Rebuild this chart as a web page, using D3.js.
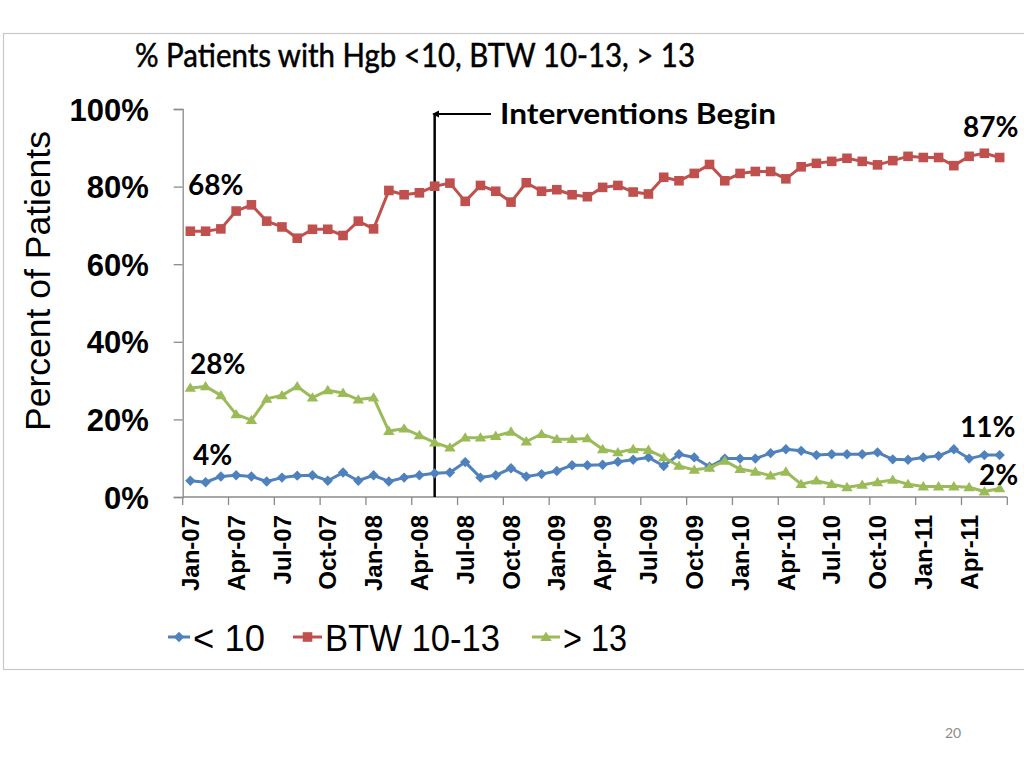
<!DOCTYPE html>
<html>
<head>
<meta charset="utf-8">
<script src="https://cdn.jsdelivr.net/npm/d3@7"></script>
<style>
  html, body { margin: 0; padding: 0; background: #ffffff; }
  svg { display: block; }
</style>
</head>
<body>
<svg id="chart" width="1024" height="768"></svg>
<script>
// ---------------- DATA ----------------
const months = [
  "Jan-07","Feb-07","Mar-07","Apr-07","May-07","Jun-07","Jul-07","Aug-07","Sep-07","Oct-07","Nov-07","Dec-07",
  "Jan-08","Feb-08","Mar-08","Apr-08","May-08","Jun-08","Jul-08","Aug-08","Sep-08","Oct-08","Nov-08","Dec-08",
  "Jan-09","Feb-09","Mar-09","Apr-09","May-09","Jun-09","Jul-09","Aug-09","Sep-09","Oct-09","Nov-09","Dec-09",
  "Jan-10","Feb-10","Mar-10","Apr-10","May-10","Jun-10","Jul-10","Aug-10","Sep-10","Oct-10","Nov-10","Dec-10",
  "Jan-11","Feb-11","Mar-11","Apr-11","May-11","Jun-11"
];
const tickLabels = ["Jan-07","Apr-07","Jul-07","Oct-07","Jan-08","Apr-08","Jul-08","Oct-08","Jan-09","Apr-09",
  "Jul-09","Oct-09","Jan-10","Apr-10","Jul-10","Oct-10","Jan-11","Apr-11"];
const yTicks = [0, 20, 40, 60, 80, 100];

const seriesNames = ["< 10", "BTW 10-13", "> 13"];
const lt10 = [4.2,3.8,5.3,5.6,5.3,4.0,5.0,5.5,5.6,4.2,6.3,4.2,5.6,4.0,5.0,5.6,6.1,6.3,
  9.0,5.0,5.6,7.4,5.3,5.9,6.7,8.2,8.2,8.3,9.1,9.6,10.2,8.0,11.0,10.2,7.8,
  9.9,9.9,9.9,11.3,12.3,11.9,10.8,11.0,11.0,11.0,11.5,9.7,9.6,10.2,10.6,12.3,9.9,10.8,10.8];
const btw = [68.5,68.5,69.1,73.7,75.3,71.1,69.6,66.7,69.0,69.0,67.4,71.1,69.1,79.0,77.9,78.4,80.1,80.9,
  76.2,80.3,78.8,76.0,81.0,78.8,79.2,77.9,77.4,79.8,80.3,78.6,78.1,82.4,81.5,83.4,85.7,
  81.5,83.4,83.9,83.9,82.0,85.1,86.0,86.5,87.3,86.5,85.6,86.7,87.8,87.5,87.5,85.4,87.8,88.6,87.5];
const gt13 = [28.1,28.5,26.2,21.3,19.8,25.3,26.2,28.5,25.6,27.5,26.8,25.1,25.6,17.0,17.6,15.9,14.0,12.7,
  15.3,15.3,15.7,16.8,14.3,16.2,14.9,14.9,15.1,12.3,11.5,12.3,12.1,10.2,8.0,7.0,7.5,
  9.3,7.2,6.5,5.5,6.5,3.3,4.2,3.3,2.5,3.1,3.8,4.4,3.3,2.7,2.7,2.7,2.5,1.4,2.2];

const interventionMonth = "May-08";
const interventionText = "Interventions Begin";
const titleText = "% Patients with Hgb <10, BTW 10-13, > 13";
const yTitle = "Percent of Patients";
const startLabels = ["4%", "68%", "28%"];
const endLabels = ["11%", "87%", "2%"];

// ---------------- STYLE ----------------
const colors = ["#4F81BD", "#C0504D", "#9BBB59"];
const shapes = ["diamond", "square", "triangle"];

const svg = d3.select("#chart");

// slide frame
svg.append("rect").attr("x", 3.5).attr("y", 33.5).attr("width", 1030).attr("height", 636)
  .attr("fill", "none").attr("stroke", "#c8c8c8").attr("stroke-width", 1.2);

const x = d3.scaleBand().domain(months).range([182.7, 1007.3]).padding(0);
const y = d3.scaleLinear().domain([0, 100]).range([497, 109]);
const cx = m => x(m) + x.bandwidth() / 2;

// title
svg.append("text").attr("x", 135).attr("y", 67)
  .attr("font-family", "Lato, 'Open Sans', sans-serif").attr("font-size", 32)
  .attr("stroke", "#000").attr("stroke-width", 0.5)
  .attr("textLength", 560).attr("lengthAdjust", "spacingAndGlyphs")
  .attr("fill", "#000").text(titleText);

// y axis
const yAxis = svg.append("g").attr("transform", `translate(${x.range()[0]},0)`)
  .call(d3.axisLeft(y).tickValues(yTicks).tickSize(9).tickFormat(d => d + "%"));
yAxis.select(".domain").attr("stroke", "#8a8a8a").attr("stroke-width", 1.3);
yAxis.selectAll(".tick line").attr("stroke", "#8a8a8a").attr("stroke-width", 1.3);
yAxis.selectAll(".tick text")
  .attr("x", -34).attr("dy", "0.36em")
  .attr("font-family", "'Liberation Sans', Arial, sans-serif").attr("font-weight", "bold")
  .attr("font-size", 31).attr("fill", "#000");

// y title
svg.append("text").attr("transform", "translate(50,281) rotate(-90)")
  .attr("text-anchor", "middle")
  .attr("font-family", "'Liberation Sans', Arial, sans-serif").attr("font-size", 35.5)
  .attr("fill", "#000").text(yTitle);

// x axis
const xg = svg.append("g");
xg.append("line").attr("x1", x.range()[0]).attr("x2", x.range()[1])
  .attr("y1", y(0)).attr("y2", y(0)).attr("stroke", "#8a8a8a").attr("stroke-width", 1.3);
const tickIdx = d3.range(0, months.length + 1, 3);
xg.selectAll("line.tk").data(tickIdx).join("line").attr("class", "tk")
  .attr("x1", i => i < months.length ? x(months[i]) : x.range()[1])
  .attr("x2", i => i < months.length ? x(months[i]) : x.range()[1])
  .attr("y1", y(0)).attr("y2", y(0) + 8)
  .attr("stroke", "#8a8a8a").attr("stroke-width", 1.3);
xg.selectAll("text").data(tickLabels).join("text")
  .attr("transform", d => `translate(${cx(d)},515) rotate(-90)`)
  .attr("text-anchor", "end").attr("dy", "0.36em")
  .attr("font-family", "'Liberation Sans', Arial, sans-serif").attr("font-weight", "bold")
  .attr("font-size", 24).attr("fill", "#000").text(d => d);

// intervention line + arrow
const ix = cx(interventionMonth);
svg.append("defs").append("marker").attr("id", "arr")
  .attr("viewBox", "0 0 10 10").attr("refX", 1).attr("refY", 5)
  .attr("markerWidth", 4).attr("markerHeight", 4).attr("orient", "auto-start-reverse")
  .append("path").attr("d", "M0,0 L10,5 L0,10 z").attr("fill", "#000");
svg.append("line").attr("x1", ix).attr("x2", ix).attr("y1", 113).attr("y2", y(0))
  .attr("stroke", "#000").attr("stroke-width", 2.5);
svg.append("line").attr("x1", 491).attr("x2", ix + 4).attr("y1", 114).attr("y2", 114)
  .attr("stroke", "#000").attr("stroke-width", 1.8).attr("marker-end", "url(#arr)");
svg.append("text").attr("x", 500).attr("y", 124)
  .attr("font-family", "Lato, 'Open Sans', sans-serif").attr("font-weight", "bold")
  .attr("font-size", 28).attr("textLength", 276).attr("lengthAdjust", "spacingAndGlyphs")
  .attr("fill", "#000").text(interventionText);

// markers
function markerPath(shape, s) {
  if (shape === "diamond") return `M0,${-s} L${s},0 L0,${s} L${-s},0 Z`;
  if (shape === "square") return `M${-s},${-s} H${s} V${s} H${-s} Z`;
  return `M0,${-s * 1.05} L${s * 1.1},${s * 0.75} L${-s * 1.1},${s * 0.75} Z`;
}
const markerSize = [5.2, 4.8, 5.2];

const allSeries = [lt10, btw, gt13];
const line = d3.line().x((d, i) => cx(months[i])).y(d => y(d));
allSeries.forEach((vals, k) => {
  const g = svg.append("g");
  g.append("path").datum(vals).attr("d", line).attr("fill", "none")
    .attr("stroke", colors[k]).attr("stroke-width", 3).attr("stroke-linejoin", "round");
  g.selectAll("path.m").data(vals).join("path").attr("class", "m")
    .attr("transform", (d, i) => `translate(${cx(months[i])},${y(d)})`)
    .attr("d", markerPath(shapes[k], markerSize[k])).attr("fill", colors[k]);
});

// data labels
const lblFont = "Lato, 'Open Sans', sans-serif";
const startPos = [[193, 465], [188, 195], [190, 374]];
const endPos = [[960, 437], [963, 137], [979, 485]];
[0, 1, 2].forEach(k => {
  svg.append("text").attr("x", startPos[k][0]).attr("y", startPos[k][1])
    .attr("font-family", lblFont).attr("font-weight", "bold").attr("font-size", 28)
    .attr("fill", "#000").text(startLabels[k]);
  svg.append("text").attr("x", endPos[k][0]).attr("y", endPos[k][1])
    .attr("font-family", lblFont).attr("font-weight", "bold").attr("font-size", 28)
    .attr("fill", "#000").text(endLabels[k]);
});

// legend
const legendX = [168, 293, 532];
const legendW = [22, 29, 28];
const legendTextW = [72, 175, 64];
const ly = 637;
seriesNames.forEach((name, k) => {
  const g = svg.append("g");
  g.append("line").attr("x1", legendX[k]).attr("x2", legendX[k] + legendW[k])
    .attr("y1", ly).attr("y2", ly).attr("stroke", colors[k]).attr("stroke-width", 3);
  g.append("path").attr("transform", `translate(${legendX[k] + legendW[k] / 2},${ly})`)
    .attr("d", markerPath(shapes[k], markerSize[k])).attr("fill", colors[k]);
  g.append("text").attr("x", legendX[k] + legendW[k] + 3).attr("y", ly + 14)
    .attr("font-family", "'Liberation Sans', Arial, sans-serif").attr("font-size", 37)
    .attr("textLength", legendTextW[k]).attr("lengthAdjust", "spacingAndGlyphs")
    .attr("fill", "#000").text(name);
});

// page number
svg.append("text").attr("x", 953).attr("y", 738).attr("text-anchor", "middle")
  .attr("font-family", "Lato, 'Open Sans', sans-serif").attr("font-size", 14)
  .attr("fill", "#8c8c8c").text("20");
</script>
</body>
</html>
